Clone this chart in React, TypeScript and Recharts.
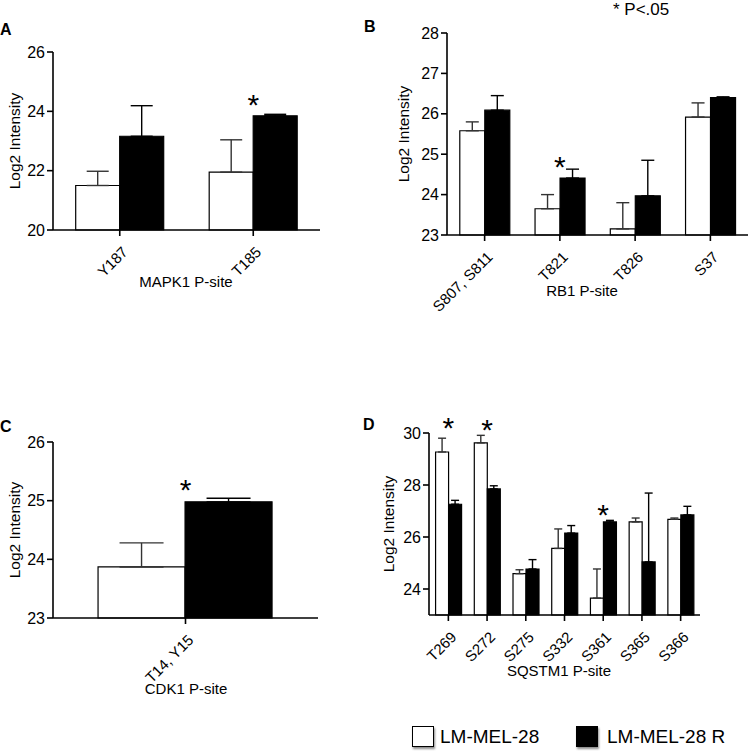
import React from 'react';
import { BarChart, Bar, XAxis, YAxis, ErrorBar, ReferenceDot } from 'recharts';

// A: MAPK1
const mapkSites = ['Y187', 'T185'];
const mapkParent = [21.5, 21.95];
const mapkParentErr = [0.48, 1.09];
const mapkResist = [23.16, 23.85];
const mapkResistErr = [1.03, 0.05];
const mapkStars = [{ site: 'T185', at: 24.45 }];

// B: RB1
const rbSites = ['S807, S811', 'T821', 'T826', 'S37'];
const rbParent = [25.58, 23.65, 23.15, 25.92];
const rbParentErr = [0.22, 0.35, 0.65, 0.35];
const rbResist = [26.09, 24.41, 23.97, 26.4];
const rbResistErr = [0.36, 0.22, 0.88, 0.02];
const rbStars = [{ site: 'T821', at: 24.86 }];

// C: CDK1
const cdkSites = ['T14, Y15'];
const cdkParent = [23.87];
const cdkParentErr = [0.41];
const cdkResist = [24.98];
const cdkResistErr = [0.06];
const cdkStars = [{ site: 'T14, Y15', at: 25.3 }];

// D: SQSTM1
const sqSites = ['T269', 'S272', 'S275', 'S332', 'S361', 'S365', 'S366'];
const sqParent = [29.27, 29.62, 24.59, 25.56, 23.65, 26.58, 26.68];
const sqParentErr = [0.53, 0.29, 0.15, 0.75, 1.12, 0.15, 0.05];
const sqResist = [27.26, 27.85, 24.77, 26.15, 26.58, 25.04, 26.85];
const sqResistErr = [0.15, 0.12, 0.36, 0.29, 0.06, 2.65, 0.33];
const sqStars = [
  { site: 'T269', at: 30.46 },
  { site: 'S272', at: 30.38 },
  { site: 'S361', at: 27.12 },
];

const buildRows = (sites: string[], p: number[], pe: number[], r: number[], re: number[]) =>
  sites.map((site, i) => ({
    site,
    parent: p[i],
    parentErr: [0, pe[i]],
    resist: r[i],
    resistErr: [0, re[i]],
  }));

const FONT = '"Liberation Sans", Arial, sans-serif';

const RotTick = (props: any) => {
  const { x, y, payload } = props;
  return (
    <g transform={`translate(${x + 9},${y + 15})`}>
      <text x={0} y={0} textAnchor="end" transform="rotate(-45)" fontSize={15} fill="#000">
        {payload.value}
      </text>
    </g>
  );
};

const Star = (props: any) => (
  <text x={props.cx} y={props.cy + 17} textAnchor="middle" fontSize={30} fill="#000">
    *
  </text>
);

interface PanelProps {
  rows: any[];
  stars: { site: string; at: number }[];
  left: number;
  top: number;
  width: number;
  height: number;
  margin: { top: number; right: number; left: number; bottom: number };
  yWidth: number;
  domain: [number, number];
  ticks: number[];
  cap: number;
  labelOffset: number;
}

const Panel: React.FC<PanelProps> = ({ rows, stars, left, top, width, height, margin, yWidth, domain, ticks, cap, labelOffset }) => (
  <div style={{ position: 'absolute', left, top }}>
    <BarChart width={width} height={height} data={rows} margin={margin} barCategoryGap="17%" barGap={0}>
      <XAxis
        dataKey="site"
        interval={0}
        height={70}
        tick={<RotTick />}
        axisLine={{ stroke: '#000', strokeWidth: 1.6 }}
        tickLine={{ stroke: '#000', strokeWidth: 1.6 }}
      />
      <YAxis
        type="number"
        domain={domain}
        ticks={ticks}
        width={yWidth}
        tick={{ fontSize: 16, fill: '#000' }}
        axisLine={{ stroke: '#000', strokeWidth: 1.6 }}
        tickLine={{ stroke: '#000', strokeWidth: 1.6 }}
        label={{
          value: 'Log2 Intensity',
          angle: -90,
          position: 'insideLeft',
          offset: labelOffset,
          fontSize: 15.5,
          fill: '#000',
          style: { textAnchor: 'middle' },
        }}
      />
      <Bar dataKey="parent" fill="#fff" stroke="#000" strokeWidth={1.2} isAnimationActive={false}>
        <ErrorBar dataKey="parentErr" width={cap} stroke="#333" strokeWidth={1.4} direction="y" />
      </Bar>
      <Bar dataKey="resist" fill="#000" stroke="#000" strokeWidth={1.2} isAnimationActive={false}>
        <ErrorBar dataKey="resistErr" width={cap} stroke="#000" strokeWidth={1.4} direction="y" />
      </Bar>
      {stars.map((s) => (
        <ReferenceDot key={s.site} x={s.site} y={s.at} r={0} ifOverflow="visible" shape={Star} />
      ))}
    </BarChart>
  </div>
);

const Txt: React.FC<{ x: number; y: number; size: number; bold?: boolean; center?: boolean; children: React.ReactNode }> = ({
  x,
  y,
  size,
  bold,
  center,
  children,
}) => (
  <div
    style={{
      position: 'absolute',
      left: x,
      top: y,
      fontSize: size,
      lineHeight: `${size}px`,
      fontWeight: bold ? 700 : 400,
      whiteSpace: 'nowrap',
      transform: center ? 'translate(-50%, -50%)' : 'translate(0, -50%)',
    }}
  >
    {children}
  </div>
);

const Swatch: React.FC<{ x: number; fill: string }> = ({ x, fill }) => (
  <div
    style={{
      position: 'absolute',
      left: x,
      top: 726,
      width: 20,
      height: 19,
      background: fill,
      border: '1px solid #000',
      boxShadow: '1px 2px 2px rgba(0,0,0,0.45)',
    }}
  />
);

export default function App() {
  return (
    <div style={{ position: 'absolute', left: 0, top: 0, width: 751, height: 756, background: '#fff', fontFamily: FONT, color: '#000' }}>
      <Panel
        rows={buildRows(mapkSites, mapkParent, mapkParentErr, mapkResist, mapkResistErr)}
        stars={mapkStars}
        left={0}
        top={0}
        width={330}
        height={330}
        margin={{ top: 52, right: 10, left: 0, bottom: 30 }}
        yWidth={53}
        domain={[20, 26]}
        ticks={[20, 22, 24, 26]}
        cap={11}
        labelOffset={14}
      />
      <Panel
        rows={buildRows(rbSites, rbParent, rbParentErr, rbResist, rbResistErr)}
        stars={rbStars}
        left={330}
        top={0}
        width={421}
        height={340}
        margin={{ top: 33, right: 3, left: 40, bottom: 35 }}
        yWidth={77}
        domain={[23, 28]}
        ticks={[23, 24, 25, 26, 27, 28]}
        cap={6.5}
        labelOffset={33}
      />
      <Panel
        rows={buildRows(cdkSites, cdkParent, cdkParentErr, cdkResist, cdkResistErr)}
        stars={cdkStars}
        left={0}
        top={380}
        width={330}
        height={338}
        margin={{ top: 62, right: 12, left: 0, bottom: 30 }}
        yWidth={53}
        domain={[23, 26]}
        ticks={[23, 24, 25, 26]}
        cap={22}
        labelOffset={14}
      />
      <Panel
        rows={buildRows(sqSites, sqParent, sqParentErr, sqResist, sqResistErr)}
        stars={sqStars}
        left={370}
        top={380}
        width={381}
        height={335}
        margin={{ top: 53, right: 51, left: 0, bottom: 30 }}
        yWidth={59}
        domain={[23, 30]}
        ticks={[24, 26, 28, 30]}
        cap={4}
        labelOffset={18}
      />

      <Txt x={0} y={30} size={16} bold>A</Txt>
      <Txt x={364} y={27} size={16} bold>B</Txt>
      <Txt x={0} y={427} size={16} bold>C</Txt>
      <Txt x={363} y={425} size={16} bold>D</Txt>

      <Txt x={186} y={281} size={15} center>MAPK1 P-site</Txt>
      <Txt x={582} y={290} size={15} center>RB1 P-site</Txt>
      <Txt x={186} y={688} size={15} center>CDK1 P-site</Txt>
      <Txt x={559} y={670} size={15} center>SQSTM1 P-site</Txt>

      <Txt x={613} y={9} size={17}>* P&lt;.05</Txt>

      <Swatch x={412} fill="#fff" />
      <Txt x={440} y={736} size={19}>LM-MEL-28</Txt>
      <Swatch x={576} fill="#000" />
      <Txt x={607} y={736} size={19}>LM-MEL-28 R</Txt>
    </div>
  );
}
